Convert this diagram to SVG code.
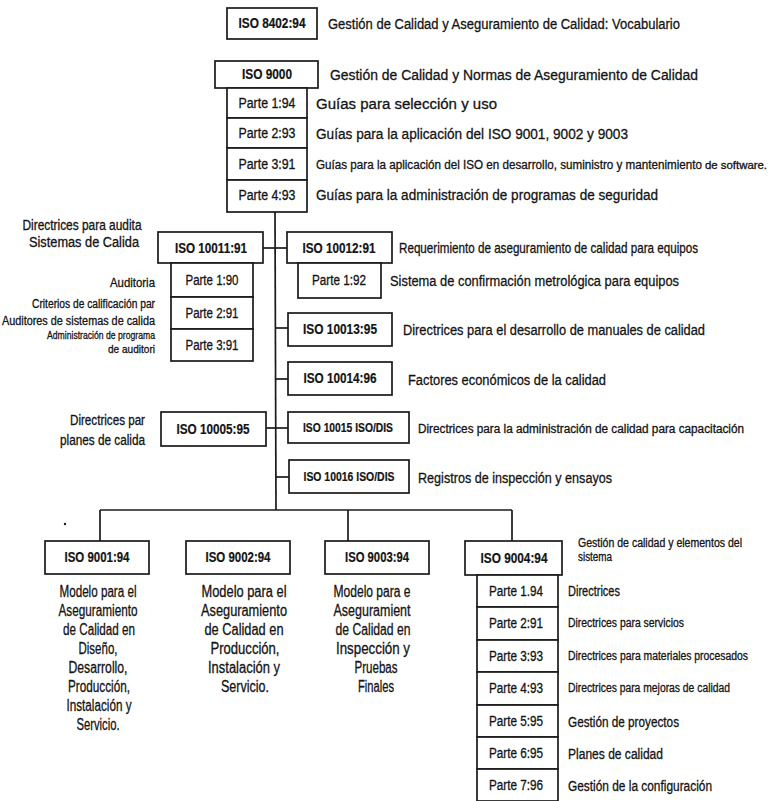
<svg xmlns="http://www.w3.org/2000/svg" width="775" height="801" viewBox="0 0 775 801">
  <style>
    .bg { fill: #ffffff; }
    .box { fill: #ffffff; stroke: #1a1a1a; stroke-width: 1.7; }
    .ln { fill: none; stroke: #1a1a1a; stroke-width: 1.7; }
    text { font-family: "Liberation Sans", Arial, sans-serif; fill: #141414; stroke: #141414; stroke-width: 0.3; }
    .id { font-weight: bold; font-size: 14px; text-anchor: middle; stroke-width: 0.2; }
    .ids { font-weight: bold; font-size: 12.5px; text-anchor: middle; stroke-width: 0.2; }
    .pt { font-size: 14px; text-anchor: middle; }
    .d14 { font-size: 15.5px; }
    .d13 { font-size: 14px; }
    .d12 { font-size: 13px; }
    .d11 { font-size: 12px; }
    .d10 { font-size: 11px; }
    .r { text-anchor: end; }
    .c { text-anchor: middle; }
    .m { font-size: 16px; text-anchor: middle; }
  </style>

  <rect class="bg" x="0" y="0" width="775" height="801"/>

  <!-- connectors -->
  <g id="connectors">
    <!-- main trunk from ISO 9000 parts down to the family bus -->
    <line class="ln" x1="275" y1="212" x2="276" y2="510"/>
    <line class="ln" x1="263" y1="248" x2="287" y2="248"/>
    <line class="ln" x1="275" y1="328" x2="288" y2="328"/>
    <line class="ln" x1="275" y1="379" x2="288" y2="379"/>
    <line class="ln" x1="266" y1="428" x2="288" y2="428"/>
    <line class="ln" x1="276" y1="477" x2="289" y2="477"/>
    <!-- bus to the 9001..9004 models -->
    <line class="ln" x1="100" y1="510" x2="512" y2="510"/>
    <line class="ln" x1="100" y1="510" x2="100" y2="541"/>
    <line class="ln" x1="348" y1="510" x2="348" y2="541"/>
    <line class="ln" x1="512" y1="510" x2="512" y2="541"/>
  </g>

  <!-- ISO 8402 -->
  <g id="iso8402">
    <rect class="box" x="227" y="8" width="90" height="31"/>
    <text class="id" x="272" y="28" textLength="67" lengthAdjust="spacingAndGlyphs">ISO 8402:94</text>
    <text class="d14" x="328" y="29" textLength="352" lengthAdjust="spacingAndGlyphs">Gestión de Calidad y Aseguramiento de Calidad: Vocabulario</text>
  </g>

  <!-- ISO 9000 and its parts -->
  <g id="iso9000">
    <rect class="box" x="215" y="61" width="103" height="27"/>
    <text class="id" x="267" y="79" textLength="50" lengthAdjust="spacingAndGlyphs">ISO 9000</text>
    <text class="d14" x="330" y="80" textLength="368" lengthAdjust="spacingAndGlyphs">Gestión de Calidad y Normas de Aseguramiento de Calidad</text>
  </g>
  <g id="iso9000-p1">
    <rect class="box" x="227" y="88" width="80" height="30"/>
    <text class="pt" x="267" y="108" textLength="57" lengthAdjust="spacingAndGlyphs">Parte 1:94</text>
    <text class="d14" x="316" y="109" textLength="181" lengthAdjust="spacingAndGlyphs">Guías para selección y uso</text>
  </g>
  <g id="iso9000-p2">
    <rect class="box" x="227" y="118" width="80" height="30"/>
    <text class="pt" x="267" y="138" textLength="57" lengthAdjust="spacingAndGlyphs">Parte 2:93</text>
    <text class="d14" x="316" y="139" textLength="312" lengthAdjust="spacingAndGlyphs">Guías para la aplicación del ISO 9001, 9002 y 9003</text>
  </g>
  <g id="iso9000-p3">
    <rect class="box" x="227" y="148" width="80" height="32"/>
    <text class="pt" x="267" y="169" textLength="57" lengthAdjust="spacingAndGlyphs">Parte 3:91</text>
    <text x="316" y="169" font-size="12.5"><tspan textLength="386" lengthAdjust="spacingAndGlyphs">Guías para la aplicación del ISO en desarrollo, suministro y mantenimiento</tspan><tspan x="705" font-size="10" textLength="62" lengthAdjust="spacingAndGlyphs">de software.</tspan></text>
  </g>
  <g id="iso9000-p4">
    <rect class="box" x="227" y="180" width="80" height="32"/>
    <text class="pt" x="267" y="200" textLength="57" lengthAdjust="spacingAndGlyphs">Parte 4:93</text>
    <text class="d14" x="316" y="200" textLength="342" lengthAdjust="spacingAndGlyphs">Guías para la administración de programas de seguridad</text>
  </g>

  <!-- ISO 10011 and its parts -->
  <g id="iso10011">
    <rect class="box" x="158" y="232" width="105" height="31"/>
    <text class="id" x="211" y="253" textLength="72" lengthAdjust="spacingAndGlyphs">ISO 10011:91</text>
    <text class="d13 c" x="82" y="230" textLength="119" lengthAdjust="spacingAndGlyphs">Directrices para audita</text>
    <text class="d13 c" x="84" y="247" textLength="110" lengthAdjust="spacingAndGlyphs">Sistemas de Calida</text>
  </g>
  <g id="iso10011-p1">
    <rect class="box" x="171" y="263" width="82" height="34"/>
    <text class="pt" x="212" y="285" textLength="53" lengthAdjust="spacingAndGlyphs">Parte 1:90</text>
    <text class="d12 r" x="155" y="287" textLength="45" lengthAdjust="spacingAndGlyphs">Auditoria</text>
  </g>
  <g id="iso10011-p2">
    <rect class="box" x="171" y="297" width="82" height="32"/>
    <text class="pt" x="212" y="318" textLength="53" lengthAdjust="spacingAndGlyphs">Parte 2:91</text>
    <text class="d11 r" x="155" y="308" textLength="123" lengthAdjust="spacingAndGlyphs">Criterios de calificación par</text>
    <text class="d11 r" x="155" y="325" textLength="153" lengthAdjust="spacingAndGlyphs">Auditores de sistemas de calida</text>
  </g>
  <g id="iso10011-p3">
    <rect class="box" x="171" y="329" width="82" height="32"/>
    <text class="pt" x="212" y="350" textLength="53" lengthAdjust="spacingAndGlyphs">Parte 3:91</text>
    <text class="d10 r" x="155" y="339" textLength="108" lengthAdjust="spacingAndGlyphs">Administración de programa</text>
    <text class="d10 r" x="155" y="353" textLength="47" lengthAdjust="spacingAndGlyphs">de auditori</text>
  </g>

  <!-- ISO 10012 and part -->
  <g id="iso10012">
    <rect class="box" x="287" y="232" width="105" height="31"/>
    <text class="id" x="339" y="253" textLength="73" lengthAdjust="spacingAndGlyphs">ISO 10012:91</text>
    <text x="399" y="253" font-size="14.5" textLength="299" lengthAdjust="spacingAndGlyphs">Requerimiento de aseguramiento de calidad para equipos</text>
  </g>
  <g id="iso10012-p1">
    <rect class="box" x="298" y="263" width="83" height="35"/>
    <text class="pt" x="339" y="285" textLength="54" lengthAdjust="spacingAndGlyphs">Parte 1:92</text>
    <text class="d14" x="390" y="286" textLength="289" lengthAdjust="spacingAndGlyphs">Sistema de confirmación metrológica para equipos</text>
  </g>

  <g id="iso10013">
    <rect class="box" x="288" y="313" width="104" height="33"/>
    <text class="id" x="340" y="334" textLength="74" lengthAdjust="spacingAndGlyphs">ISO 10013:95</text>
    <text class="d14" x="403" y="335" textLength="302" lengthAdjust="spacingAndGlyphs">Directrices para el desarrollo de manuales de calidad</text>
  </g>

  <g id="iso10014">
    <rect class="box" x="288" y="362" width="104" height="33"/>
    <text class="id" x="340" y="383" textLength="73" lengthAdjust="spacingAndGlyphs">ISO 10014:96</text>
    <text class="d14" x="408" y="385" textLength="198" lengthAdjust="spacingAndGlyphs">Factores económicos de la calidad</text>
  </g>

  <g id="iso10005">
    <rect class="box" x="161" y="412" width="105" height="34"/>
    <text class="id" x="213" y="434" textLength="73" lengthAdjust="spacingAndGlyphs">ISO 10005:95</text>
    <text class="d13 r" x="145" y="425" textLength="75" lengthAdjust="spacingAndGlyphs">Directrices par</text>
    <text class="d13 r" x="145" y="445" textLength="85" lengthAdjust="spacingAndGlyphs">planes de calida</text>
  </g>

  <g id="iso10015">
    <rect class="box" x="288" y="412" width="121" height="31"/>
    <text class="ids" x="348" y="432" textLength="90" lengthAdjust="spacingAndGlyphs">ISO 10015 ISO/DIS</text>
    <text x="418" y="433" font-size="12" textLength="326" lengthAdjust="spacingAndGlyphs">Directrices para la administración de calidad para capacitación</text>
  </g>

  <g id="iso10016">
    <rect class="box" x="289" y="460" width="120" height="33"/>
    <text class="ids" x="349" y="481" textLength="91" lengthAdjust="spacingAndGlyphs">ISO 10016 ISO/DIS</text>
    <text class="d14" x="418" y="483" textLength="194" lengthAdjust="spacingAndGlyphs">Registros de inspección y ensayos</text>
  </g>

  <!-- ISO 9001 -->
  <g id="iso9001">
    <rect class="box" x="45" y="541" width="104" height="33"/>
    <text class="id" x="97" y="562" textLength="65" lengthAdjust="spacingAndGlyphs">ISO 9001:94</text>
    <text class="m" x="98" y="597" textLength="77" lengthAdjust="spacingAndGlyphs">Modelo para el</text>
    <text class="m" x="98" y="616" textLength="79" lengthAdjust="spacingAndGlyphs">Aseguramiento</text>
    <text class="m" x="99" y="635" textLength="72" lengthAdjust="spacingAndGlyphs">de Calidad en</text>
    <text class="m" x="98" y="654" textLength="39" lengthAdjust="spacingAndGlyphs">Diseño,</text>
    <text class="m" x="98" y="673" textLength="59" lengthAdjust="spacingAndGlyphs">Desarrollo,</text>
    <text class="m" x="99" y="692" textLength="62" lengthAdjust="spacingAndGlyphs">Producción,</text>
    <text class="m" x="99" y="711" textLength="65" lengthAdjust="spacingAndGlyphs">Instalación y</text>
    <text class="m" x="98" y="730" textLength="43" lengthAdjust="spacingAndGlyphs">Servicio.</text>
  </g>

  <!-- ISO 9002 -->
  <g id="iso9002">
    <rect class="box" x="186" y="541" width="104" height="33"/>
    <text class="id" x="238" y="562" textLength="65" lengthAdjust="spacingAndGlyphs">ISO 9002:94</text>
    <text class="m" x="244" y="597" textLength="85" lengthAdjust="spacingAndGlyphs">Modelo para el</text>
    <text class="m" x="244" y="616" textLength="86" lengthAdjust="spacingAndGlyphs">Aseguramiento</text>
    <text class="m" x="244" y="635" textLength="79" lengthAdjust="spacingAndGlyphs">de Calidad en</text>
    <text class="m" x="245" y="654" textLength="69" lengthAdjust="spacingAndGlyphs">Producción,</text>
    <text class="m" x="244" y="673" textLength="72" lengthAdjust="spacingAndGlyphs">Instalación y</text>
    <text class="m" x="245" y="692" textLength="48" lengthAdjust="spacingAndGlyphs">Servicio.</text>
  </g>

  <!-- ISO 9003 -->
  <g id="iso9003">
    <rect class="box" x="325" y="541" width="104" height="33"/>
    <text class="id" x="377" y="562" textLength="64" lengthAdjust="spacingAndGlyphs">ISO 9003:94</text>
    <text class="m" x="372" y="597" textLength="77" lengthAdjust="spacingAndGlyphs">Modelo para e</text>
    <text class="m" x="372" y="616" textLength="77" lengthAdjust="spacingAndGlyphs">Aseguramient</text>
    <text class="m" x="373" y="635" textLength="75" lengthAdjust="spacingAndGlyphs">de Calidad en</text>
    <text class="m" x="373" y="654" textLength="74" lengthAdjust="spacingAndGlyphs">Inspección y</text>
    <text class="m" x="376" y="673" textLength="43" lengthAdjust="spacingAndGlyphs">Pruebas</text>
    <text class="m" x="376" y="692" textLength="36" lengthAdjust="spacingAndGlyphs">Finales</text>
  </g>

  <!-- ISO 9004 and its parts -->
  <g id="iso9004">
    <rect class="box" x="465" y="541" width="97" height="34"/>
    <text class="id" x="514" y="563" textLength="67" lengthAdjust="spacingAndGlyphs">ISO 9004:94</text>
    <text class="d11" x="578" y="547" textLength="164" lengthAdjust="spacingAndGlyphs">Gestión de calidad y elementos del</text>
    <text class="d11" x="578" y="561" textLength="34" lengthAdjust="spacingAndGlyphs">sistema</text>
  </g>
  <g id="iso9004-p1">
    <rect class="box" x="477" y="575" width="81" height="32"/>
    <text class="pt" x="516" y="596" textLength="54" lengthAdjust="spacingAndGlyphs">Parte 1.94</text>
    <text class="d13" x="568" y="596" textLength="52" lengthAdjust="spacingAndGlyphs">Directrices</text>
  </g>
  <g id="iso9004-p2">
    <rect class="box" x="477" y="607" width="81" height="33"/>
    <text class="pt" x="516" y="628" textLength="54" lengthAdjust="spacingAndGlyphs">Parte 2:91</text>
    <text class="d11" x="568" y="627" textLength="116" lengthAdjust="spacingAndGlyphs">Directrices para servicios</text>
  </g>
  <g id="iso9004-p3">
    <rect class="box" x="477" y="640" width="81" height="32"/>
    <text class="pt" x="516" y="661" textLength="54" lengthAdjust="spacingAndGlyphs">Parte 3:93</text>
    <text class="d11" x="568" y="660" textLength="180" lengthAdjust="spacingAndGlyphs">Directrices para materiales procesados</text>
  </g>
  <g id="iso9004-p4">
    <rect class="box" x="477" y="672" width="81" height="33"/>
    <text class="pt" x="516" y="693" textLength="54" lengthAdjust="spacingAndGlyphs">Parte 4:93</text>
    <text class="d11" x="568" y="692" textLength="162" lengthAdjust="spacingAndGlyphs">Directrices para mejoras de calidad</text>
  </g>
  <g id="iso9004-p5">
    <rect class="box" x="477" y="705" width="81" height="32"/>
    <text class="pt" x="516" y="726" textLength="54" lengthAdjust="spacingAndGlyphs">Parte 5:95</text>
    <text class="d13" x="568" y="727" textLength="111" lengthAdjust="spacingAndGlyphs">Gestión de proyectos</text>
  </g>
  <g id="iso9004-p6">
    <rect class="box" x="477" y="737" width="81" height="32"/>
    <text class="pt" x="516" y="758" textLength="54" lengthAdjust="spacingAndGlyphs">Parte 6:95</text>
    <text class="d13" x="568" y="759" textLength="95" lengthAdjust="spacingAndGlyphs">Planes de calidad</text>
  </g>
  <g id="iso9004-p7">
    <rect class="box" x="477" y="769" width="81" height="32"/>
    <text class="pt" x="516" y="790" textLength="54" lengthAdjust="spacingAndGlyphs">Parte 7:96</text>
    <text class="d13" x="568" y="791" textLength="144" lengthAdjust="spacingAndGlyphs">Gestión de la configuración</text>
  </g>

  <!-- stray ink dot left of the 9001 drop -->
  <circle cx="65" cy="524" r="1.2" fill="#1a1a1a"/>
</svg>
